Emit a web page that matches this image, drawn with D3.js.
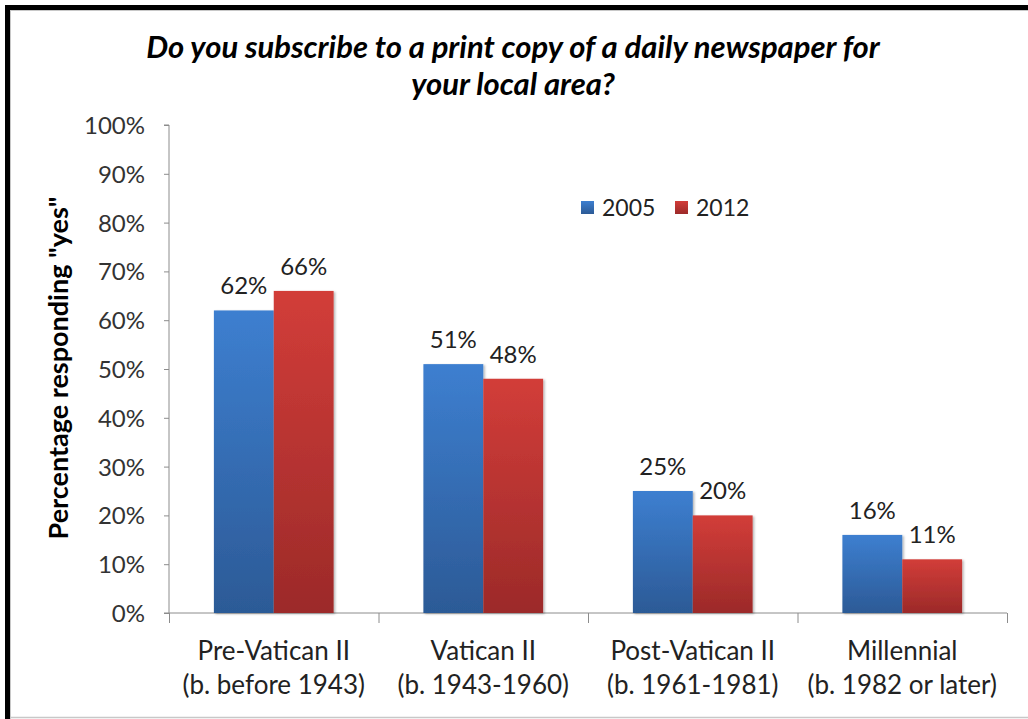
<!DOCTYPE html>
<html>
<head>
<meta charset="utf-8">
<script src="https://cdn.jsdelivr.net/npm/d3@7"></script>
<style>
  html, body { margin: 0; padding: 0; background: #fff; }
  svg { display: block; font-family: Lato, "Open Sans", sans-serif; }
</style>
</head>
<body>
<svg id="chart" width="1028" height="719"></svg>
<script>
// Generations and survey results (share answering "yes")
const categories = ["Pre-Vatican II|(b. before 1943)", "Vatican II|(b. 1943-1960)", "Post-Vatican II|(b. 1961-1981)", "Millennial|(b. 1982 or later)"];
const seriesNames = ["2005", "2012"];
const values2005 = [0.62, 0.51, 0.25, 0.16];
const values2012 = [0.66, 0.48, 0.20, 0.11];
const yTicks = [0, 0.1, 0.2, 0.3, 0.4, 0.5, 0.6, 0.7, 0.8, 0.9, 1.0];
const titleLines = ["Do you subscribe to a print copy of a daily newspaper for", "your local area?"];
const yTitle = "Percentage responding \"yes\"";

const seriesValues = [values2005, values2012];
const colors = {
  "2005": ["#3d7fd0", "#2c5a96"],
  "2012": ["#d23d39", "#9c2a29"]
};

const svg = d3.select("#chart");
const W = 1028, H = 719;
const m = { left: 169, right: 1007, top: 125, bottom: 613 };

// Frame
svg.append("rect").attr("x", 0).attr("y", 0).attr("width", W).attr("height", H).attr("fill", "#fff");
svg.append("line").attr("x1", 10).attr("x2", W).attr("y1", 717.5).attr("y2", 717.5).attr("stroke", "#c8c8c8").attr("stroke-width", 1.5);
svg.append("line").attr("x1", 10).attr("x2", W).attr("y1", 10.5).attr("y2", 10.5).attr("stroke", "#c8c8c8").attr("stroke-width", 1);
svg.append("line").attr("x1", 10.5).attr("x2", 10.5).attr("y1", 10).attr("y2", H).attr("stroke", "#c8c8c8").attr("stroke-width", 1);
svg.append("path").attr("d", `M7.5,${H} V7.5 H${W}`).attr("fill", "none").attr("stroke", "#000").attr("stroke-width", 5);

// Gradients
const defs = svg.append("defs");
seriesNames.forEach(s => {
  const g = defs.append("linearGradient").attr("id", "grad" + s)
    .attr("x1", 0).attr("y1", 0).attr("x2", 0).attr("y2", 1);
  g.append("stop").attr("offset", "0%").attr("stop-color", colors[s][0]);
  g.append("stop").attr("offset", "100%").attr("stop-color", colors[s][1]);
});
const shadow = defs.append("filter").attr("id", "shadow").attr("x", "-10%").attr("y", "-10%").attr("width", "130%").attr("height", "120%");
shadow.append("feDropShadow").attr("dx", 1.5).attr("dy", 1).attr("stdDeviation", 1.2).attr("flood-color", "#000").attr("flood-opacity", 0.3);

// Scales
const x0 = d3.scaleBand().domain(categories).range([m.left, m.right]).padding(0);
const x1 = d3.scaleBand().domain(seriesNames).range([0, x0.bandwidth()]).paddingInner(0).paddingOuter(0.75);
const y = d3.scaleLinear().domain([0, 1]).range([m.bottom, m.top]);

// Title
svg.append("g").selectAll("text").data(titleLines).join("text")
  .attr("x", 513).attr("y", (d, i) => 58 + i * 37)
  .attr("text-anchor", "middle")
  .attr("font-size", 31).attr("font-weight", "bold").attr("font-style", "italic")
  .attr("fill", "#000").text(d => d);

// Y axis
const yAxis = d3.axisLeft(y).tickValues(yTicks).tickFormat(d3.format(".0%")).tickSize(5).tickPadding(19);
const gy = svg.append("g").attr("transform", `translate(${m.left},0)`).call(yAxis);
gy.select(".domain").attr("stroke", "#8c8c8c").attr("d", `M-5,${m.bottom}H0V${m.top}H-5`);
gy.selectAll(".tick line").attr("stroke", "#8c8c8c");
gy.selectAll(".tick text").attr("font-size", 24).attr("fill", "#333").attr("font-family", "Lato, sans-serif").attr("dy", "0.35em");

// X axis
const xAxis = d3.axisBottom(x0).tickSize(0).tickFormat("");
const gx = svg.append("g").attr("transform", `translate(0,${m.bottom})`).call(xAxis);
gx.select(".domain").attr("stroke", "#8c8c8c").attr("d", `M${m.left},0H${m.right}`);
const boundaries = categories.map(c => x0(c)).concat([m.right]);
gx.selectAll(".sep").data(boundaries).join("line").attr("class", "sep")
  .attr("x1", d => d + 0.5).attr("x2", d => d + 0.5).attr("y1", 0).attr("y2", 10)
  .attr("stroke", "#8c8c8c");

// Category labels
const catG = svg.append("g").selectAll("text").data(categories).join("text")
  .attr("text-anchor", "middle").attr("font-size", 26).attr("fill", "#222");
catG.each(function (d) {
  const cx = x0(d) + x0.bandwidth() / 2;
  d3.select(this).selectAll("tspan").data(d.split("|")).join("tspan")
    .attr("x", cx).attr("y", (t, i) => 660 + i * 34).text(t => t);
});

// Bars
const groups = svg.append("g").selectAll("g").data(categories).join("g")
  .attr("transform", d => `translate(${x0(d)},0)`);
groups.selectAll("rect")
  .data((d, i) => seriesNames.map((s, k) => ({ s, v: seriesValues[k][i] })))
  .join("rect")
  .attr("x", d => x1(d.s)).attr("width", x1.bandwidth())
  .attr("y", d => y(d.v)).attr("height", d => y(0) - y(d.v))
  .attr("fill", d => `url(#grad${d.s})`)
  .attr("filter", "url(#shadow)");
groups.selectAll("text.val")
  .data((d, i) => seriesNames.map((s, k) => ({ s, v: seriesValues[k][i] })))
  .join("text").attr("class", "val")
  .attr("x", d => x1(d.s) + x1.bandwidth() / 2).attr("y", d => y(d.v) - 16)
  .attr("text-anchor", "middle").attr("font-size", 24).attr("fill", "#222")
  .text(d => d3.format(".0%")(d.v));

// Y title
svg.append("text")
  .attr("transform", `translate(68,${368}) rotate(-90)`)
  .attr("text-anchor", "middle").attr("font-size", 27).attr("font-weight", "bold").attr("fill", "#000")
  .text(yTitle);

// Legend
const legend = svg.append("g").attr("transform", "translate(581,201)");
const li = legend.selectAll("g").data(seriesNames).join("g").attr("transform", (d, i) => `translate(${i * 94},0)`);
li.append("rect").attr("width", 13).attr("height", 13).attr("fill", d => `url(#grad${d})`);
li.append("text").attr("x", 21).attr("y", 15).attr("font-size", 23).attr("fill", "#222").text(d => d);
</script>
</body>
</html>
